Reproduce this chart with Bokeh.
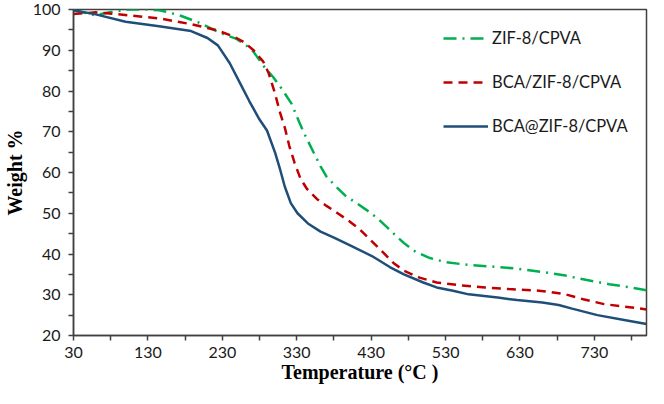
from bokeh.plotting import figure
from bokeh.models import FixedTicker, Range1d, Legend, LegendItem
from bokeh.embed import file_html
from bokeh.resources import INLINE

# ---- data ----
temp_zif = [30, 45, 59, 80, 105, 128, 145, 158, 175, 197, 220, 235, 249, 262, 272, 288, 298, 310, 323, 333,
            340, 353, 362, 370, 383, 396, 412, 427, 440, 453, 463, 474, 490, 509, 530, 561, 595, 626, 660,
            691, 720, 750, 775, 800]
w_zif = [99.8, 99.2, 98.6, 99.4, 100.0, 100.0, 99.8, 99.3, 98.4, 96.9, 94.9, 93.7, 92.8, 91.2, 89.6, 85.5,
         83.5, 80.5, 76.9, 72.5, 69.6, 64.8, 61.5, 59.0, 56.5, 54.2, 52.3, 50.4, 48.5, 46.3, 44.5, 42.7,
         40.5, 39.0, 38.0, 37.3, 36.9, 36.4, 35.6, 34.7, 33.6, 32.6, 31.9, 31.1]

temp_bca_zif = [30, 60, 103, 146, 188, 223, 245, 259, 272, 285, 292, 301, 307, 314, 320, 327, 335, 344, 357,
                370, 385, 401, 415, 431, 447, 460, 474, 495, 518, 550, 583, 615, 648, 670, 691, 715, 743,
                770, 800]
w_bca_zif = [98.9, 99.3, 98.6, 97.8, 96.4, 94.9, 93.4, 92.0, 90.0, 87.2, 84.5, 79.3, 75.0, 71.0, 66.5, 62.4,
             58.5, 55.9, 53.5, 51.8, 50.0, 48.0, 46.0, 43.1, 40.2, 37.8, 35.9, 34.2, 33.0, 32.3, 31.8, 31.4,
             31.1, 30.7, 30.1, 28.9, 27.7, 27.1, 26.4]

temp_bca_at = [30, 60, 100, 145, 188, 210, 224, 240, 255, 266, 280, 290, 301, 308, 314, 322, 331, 345, 362,
               380, 401, 431, 455, 474, 500, 518, 540, 561, 600, 626, 660, 682, 700, 734, 770, 800]
w_bca_at = [99.8, 98.8, 97.0, 95.9, 94.7, 93.0, 91.2, 86.8, 81.5, 77.6, 73.0, 70.3, 64.8, 60.5, 56.5, 52.5,
            50.0, 47.5, 45.5, 44.0, 42.2, 39.5, 36.8, 35.0, 33.0, 31.8, 31.0, 30.1, 29.3, 28.7, 28.1, 27.5,
            26.6, 25.0, 23.8, 22.8]

series_names = ["ZIF-8/CPVA", "BCA/ZIF-8/CPVA", "BCA@ZIF-8/CPVA"]
x_ticks = [30, 130, 230, 330, 430, 530, 630, 730]
x_minor = [80, 180, 280, 380, 480, 580, 680, 780]
y_ticks = [20, 30, 40, 50, 60, 70, 80, 90, 100]
y_minor = [25, 35, 45, 55, 65, 75, 85, 95]

p = figure(width=648, height=388, output_backend="svg", toolbar_location=None,
           x_range=Range1d(30, 800), y_range=Range1d(20, 100),
           min_border_left=70, min_border_right=2, min_border_top=9, min_border_bottom=53)
p.background_fill_color = "white"
p.border_fill_color = "white"
p.outline_line_color = "#404040"
p.outline_line_width = 1.5
p.grid.visible = False

r1 = p.line(temp_zif, w_zif, line_color="#00B050", line_width=2.5, line_dash="13 6 2 6")
r2 = p.line(temp_bca_zif, w_bca_zif, line_color="#C00000", line_width=2.5, line_dash="9 6")
r3 = p.line(temp_bca_at, w_bca_at, line_color="#1F4E79", line_width=2.5)

ax = p.xaxis[0]
ax.ticker = FixedTicker(ticks=x_ticks, minor_ticks=x_minor)
ay = p.yaxis[0]
ay.ticker = FixedTicker(ticks=y_ticks, minor_ticks=y_minor)
for a in (ax, ay):
    a.axis_line_color = "#404040"
    a.axis_line_width = 1.5
    a.major_tick_line_color = "#404040"
    a.minor_tick_line_color = "#404040"
    a.major_tick_line_width = 1.5
    a.minor_tick_line_width = 1.5
    a.major_tick_in = 0
    a.major_tick_out = 5
    a.minor_tick_in = 0
    a.minor_tick_out = 5
    a.major_label_text_font = "Lato"
    a.major_label_text_font_size = "16px"
    a.major_label_text_color = "#1a1a1a"
    a.axis_label_text_font = "Liberation Serif"
    a.axis_label_text_font_style = "bold"
    a.axis_label_text_font_size = "20px"
    a.axis_label_text_color = "#000000"

ax.axis_label = "Temperature (°C )"
ax.major_label_standoff = 6
ax.axis_label_standoff = 0
ay.axis_label = "Weight %"
ay.major_label_standoff = 8
ay.axis_label_standoff = 4

legend = Legend(items=[LegendItem(label=series_names[0], renderers=[r1]),
                       LegendItem(label=series_names[1], renderers=[r2]),
                       LegendItem(label=series_names[2], renderers=[r3])],
                location=(370, 199))
legend.border_line_color = None
legend.background_fill_alpha = 0
legend.padding = 0
legend.margin = 0
legend.glyph_width = 45
legend.glyph_height = 20
legend.label_height = 20
legend.spacing = 24
legend.label_standoff = 4
legend.label_text_font = "Lato"
legend.label_text_font_size = "16.5px"
legend.label_text_color = "#1a1a1a"
p.add_layout(legend, "center")

open("out.html", "w").write(file_html(p, INLINE))
